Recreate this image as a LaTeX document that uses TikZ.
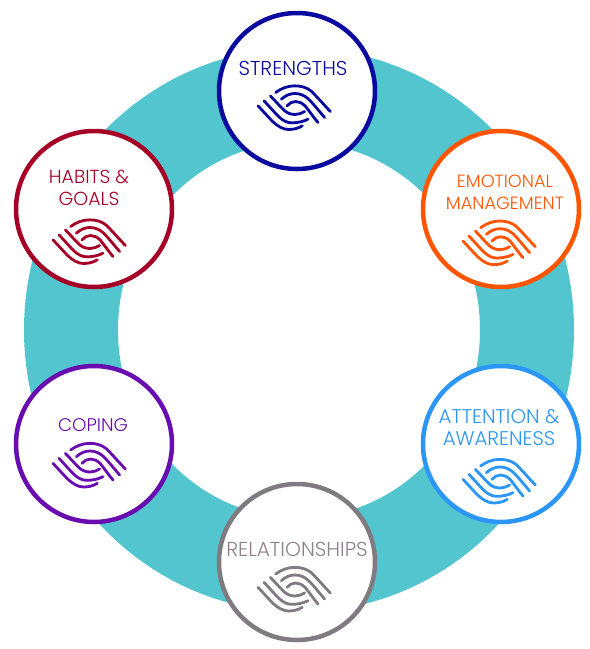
\documentclass[tikz,border=0pt]{standalone}
\usepackage{fontspec}
\setmainfont{Poppins Light}
\definecolor{ringc}{HTML}{53C5CE}
\definecolor{navyc}{HTML}{0A0A9E}
\definecolor{orangec}{HTML}{FF5500}
\definecolor{bluec}{HTML}{2B96F5}
\definecolor{grayc}{HTML}{7F7B80}
\definecolor{taupec}{HTML}{8F8288}
\definecolor{purplec}{HTML}{6A0DB0}
\definecolor{crimsonc}{HTML}{A50026}
\tikzset{
  bubble/.style={circle,draw=#1,fill=white,line width=4.5pt,minimum size=156pt,inner sep=0pt},
  lab/.style={text=#1,align=center,inner sep=0pt},
  pics/wave/.style={code={
    \begin{scope}[scale=1/3,xshift=-131pt,yshift=82pt,line width=2.8pt,line cap=round,draw=#1,x=1pt,y=-1pt]
      \draw (76,37) .. controls (92,25) and (112,17) .. (133,17) .. controls (152,17) and (170,22) .. (183,33) .. controls (200,50) and (222,75) .. (240,94);
      \draw (93,57) .. controls (105,46) and (120,40) .. (133,40) .. controls (150,40) and (163,46) .. (175,57) .. controls (190,72) and (208,95) .. (223,112);
      \draw (110,77) .. controls (116,69) and (126,64) .. (136,64) .. controls (147,64) and (156,69) .. (165,78) .. controls (175,90) and (190,112) .. (203,127);
      \draw (23,77) .. controls (40,95) and (55,112) .. (68,125) .. controls (82,138) and (98,148) .. (115,148) .. controls (130,148) and (145,144) .. (156,137);
      \draw (41,62) .. controls (60,82) and (75,100) .. (88,112) .. controls (98,121) and (110,128) .. (124,128) .. controls (142,128) and (160,124) .. (173,117);
      \draw (60,47) .. controls (75,62) and (90,80) .. (103,92) .. controls (112,99) and (122,103) .. (134,103) .. controls (144,103) and (155,99) .. (163,94);
    \end{scope}
  }}
}
\begin{document}
\begin{tikzpicture}[x=1pt,y=-1pt]
\useasboundingbox (0,0) rectangle (590,649);
\fill[white] (0,0) rectangle (590,649);
\fill[ringc,even odd rule] (299,330) ellipse[x radius=275pt,y radius=282pt] (299,330) ellipse[x radius=181pt,y radius=188pt];
\node[bubble=navyc] (strengths) at (297,91) {};
\node[bubble=crimsonc] (habits) at (94,209) {};
\node[bubble=orangec] (emotional) at (501,209) {};
\node[bubble=purplec] (coping) at (94,444) {};
\node[bubble=bluec] (attention) at (501,444) {};
\node[bubble=grayc] (relationships) at (297,562) {};
\node[lab=navyc,font=\fontsize{20.1}{22}\selectfont] (tstrengths) at (293,68) {STRENGTHS};
\node[lab=crimsonc,font=\fontsize{18.9}{22}\selectfont] (thabits) at (89,188) {HABITS \&\\GOALS};
\node[lab=orangec,font=\fontsize{17.7}{22}\selectfont] (temotional) at (505,192) {EMOTIONAL\\MANAGEMENT};
\node[lab=purplec,font=\fontsize{18.3}{22}\selectfont] (tcoping) at (93,425) {COPING};
\node[lab=bluec,font=\fontsize{19.8}{22}\selectfont] (tattention) at (499,428) {ATTENTION \&\\AWARENESS};
\node[lab=taupec,font=\fontsize{20.2}{22}\selectfont] (trelationships) at (297,549) {RELATIONSHIPS};
\pic at (294,107.5) {wave=navyc};
\pic at (89,241.5) {wave=crimsonc};
\pic at (499,242.7) {wave=orangec};
\pic at (89,465) {wave=purplec};
\pic at (499,481) {wave=bluec};
\pic at (294,589) {wave=grayc};
\end{tikzpicture}
\end{document}
